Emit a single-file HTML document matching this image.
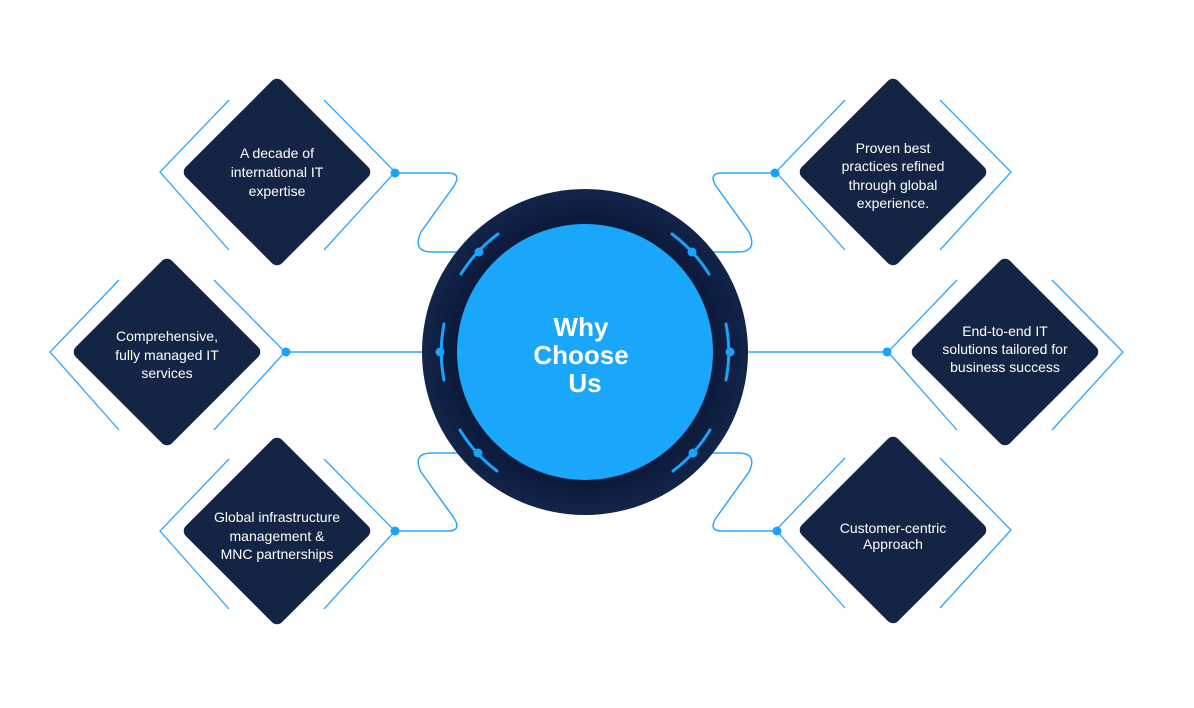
<!DOCTYPE html>
<html><head><meta charset="utf-8"><style>
html,body{margin:0;padding:0;background:#fff;}
svg{display:block;}
.t{font-family:"Liberation Sans",sans-serif;font-size:14px;fill:#fff;text-anchor:middle;}
.b{fill:none;stroke:#2ba6ff;stroke-width:1.3;}
.c{fill:none;stroke:#2ba6ff;stroke-width:1.5;}
</style></head><body>
<svg width="1194" height="708" viewBox="0 0 1194 708" xmlns="http://www.w3.org/2000/svg">
<defs>
<radialGradient id="ring" cx="50%" cy="50%" r="50%">
<stop offset="0.75" stop-color="#0a1838"/><stop offset="1" stop-color="#13244a"/>
</radialGradient>
<g id="dia"><rect x="-68" y="-68" width="136" height="136" rx="7" transform="rotate(45)" fill="#132444"/></g>
<g id="brk">
<path class="b" d="M-48,-72 L-117,0 L-48,78"/>
<path class="b" d="M47,-72 L118,0 L47,78"/>
</g>
</defs>

<!-- connectors -->
<path class="c" d="M395,173 H448 Q462,173 454,186 L421,232 Q412,252 432,252 H479"/>
<path class="c" d="M395,531 H448 Q462,531 454,518 L421,472 Q412,453 432,453 H478"/>
<path class="c" d="M286,352 H440"/>
<path class="c" d="M775,173 H722 Q708,173 716,186 L749,232 Q758,252 738,252 H692"/>
<path class="c" d="M777,531 H722 Q708,531 716,518 L749,472 Q758,453 738,453 H693"/>
<path class="c" d="M887,352 H730"/>

<!-- diamonds -->
<g transform="translate(277,172)"><use href="#brk"/><use href="#dia"/></g>
<g transform="translate(167,352)"><use href="#brk"/><use href="#dia"/></g>
<g transform="translate(277,531)"><use href="#brk"/><use href="#dia"/></g>
<g transform="translate(893,172)"><use href="#brk"/><use href="#dia"/></g>
<g transform="translate(1005,352)"><use href="#brk"/><use href="#dia"/></g>
<g transform="translate(893,530)"><use href="#brk"/><use href="#dia"/></g>

<!-- dots on diamonds -->
<g fill="#1aa3fb">
<circle cx="395" cy="173" r="4.5"/><circle cx="286" cy="352" r="4.5"/><circle cx="395" cy="531" r="4.5"/>
<circle cx="775" cy="173" r="4.5"/><circle cx="887" cy="352" r="4.5"/><circle cx="777" cy="531" r="4.5"/>
</g>

<!-- circle -->
<circle cx="585" cy="352" r="163" fill="url(#ring)"/>
<circle cx="585" cy="352" r="128" fill="#1aa6fb"/>
<g fill="none" stroke="#1aa3fb" stroke-width="3" stroke-linecap="round">
<path d="M444,324 A145,145 0 0 0 444,380"/>
<path d="M726,324 A145,145 0 0 1 726,380"/>
<path d="M498,234 A145,145 0 0 0 461,274"/>
<path d="M672,234 A145,145 0 0 1 709,274"/>
<path d="M460,430 A145,145 0 0 0 497,471"/>
<path d="M710,430 A145,145 0 0 1 673,471"/>
</g>
<g fill="#1aa3fb">
<circle cx="440" cy="352" r="4.5"/><circle cx="730" cy="352" r="4.5"/>
<circle cx="479" cy="252" r="4.5"/><circle cx="692" cy="252" r="4.5"/>
<circle cx="478" cy="453" r="4.5"/><circle cx="693" cy="453" r="4.5"/>
</g>
<text x="581" y="336" style="font-family:'Liberation Sans',sans-serif;font-size:26px;font-weight:bold;fill:#fff;text-anchor:middle">Why</text>
<text x="581" y="364" style="font-family:'Liberation Sans',sans-serif;font-size:26px;font-weight:bold;fill:#fff;text-anchor:middle">Choose</text>
<text x="585" y="392" style="font-family:'Liberation Sans',sans-serif;font-size:26px;font-weight:bold;fill:#fff;text-anchor:middle">Us</text>

<!-- labels -->
<text class="t" x="277" y="158">A decade of</text>
<text class="t" x="277" y="177">international IT</text>
<text class="t" x="277" y="196">expertise</text>

<text class="t" x="167" y="341">Comprehensive,</text>
<text class="t" x="167" y="360">fully managed IT</text>
<text class="t" x="167" y="378">services</text>

<text class="t" x="277" y="522">Global infrastructure</text>
<text class="t" x="277" y="541">management &amp;</text>
<text class="t" x="277" y="559">MNC partnerships</text>

<text class="t" x="893" y="153">Proven best</text>
<text class="t" x="893" y="171">practices refined</text>
<text class="t" x="893" y="190">through global</text>
<text class="t" x="893" y="208">experience.</text>

<text class="t" x="1005" y="336">End-to-end IT</text>
<text class="t" x="1005" y="354">solutions tailored for</text>
<text class="t" x="1005" y="372">business success</text>

<text class="t" x="893" y="533">Customer-centric</text>
<text class="t" x="893" y="549">Approach</text>
</svg>
</body></html>
